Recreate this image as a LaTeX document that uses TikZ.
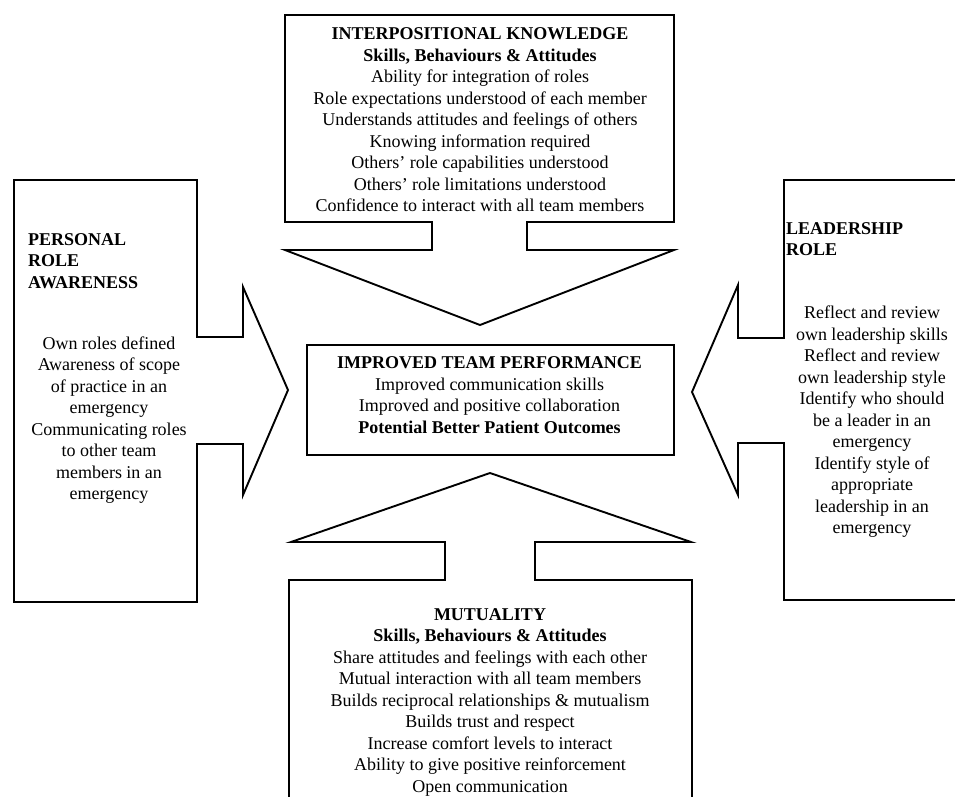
\documentclass[tikz,border=0pt]{standalone}
\usepackage{fontspec}
\setmainfont{Liberation Serif}
\usepackage{tikz}
\usetikzlibrary{calc}
\tikzstyle{callout}=[draw=black, line width=1.9pt, line join=miter]
\tikzstyle{txt}=[align=center, inner sep=0pt, font=\fontsize{18}{21.5}\selectfont]
\tikzstyle{hdleft}=[align=left, inner sep=0pt, font=\fontsize{18}{21.5}\selectfont\bfseries]

\begin{document}
\begin{tikzpicture}[x=1pt,y=-1pt]

\useasboundingbox (0,0) rectangle (955,797);
\clip (0,0) rectangle (955,797);

% the four callouts pointing inwards
\draw[callout] (285,15) -- (674,15) -- (674,222) -- (527,222) -- (527,250) -- (674,250)
  -- (480,325) -- (285,250) -- (432,250) -- (432,222) -- (285,222) -- cycle;
\draw[callout] (14,180) -- (197,180) -- (197,337) -- (243,337) -- (243,287)
  -- (288,390) -- (243,495) -- (243,444) -- (197,444) -- (197,602) -- (14,602) -- cycle;
\draw[callout] (965,180) -- (784,180) -- (784,338) -- (738,338) -- (738,285)
  -- (692,392) -- (738,495) -- (738,443) -- (784,443) -- (784,600) -- (965,600);
\draw[callout] (289,810) -- (289,580) -- (445,580) -- (445,542) -- (291,542)
  -- (490,473) -- (691,542) -- (535,542) -- (535,580) -- (692,580) -- (692,810);

% centre box
\node[callout, minimum width=367pt, minimum height=110pt, inner sep=0pt] (perf) at (490.5,400) {};

\node[txt] (interpos) at (480,120) {\textbf{INTERPOSITIONAL KNOWLEDGE}\\
  \textbf{Skills, Behaviours \& Attitudes}\\
  Ability for integration of roles\\
  Role expectations understood of each member\\
  Understands attitudes and feelings of others\\
  Knowing information required\\
  Others' role capabilities understood\\
  Others' role limitations understood\\
  Confidence to interact with all team members};

\node[hdleft, anchor=west] (persHd) at (28,261) {PERSONAL\\ROLE\\AWARENESS};
\node[txt] (persTxt) at (109,420) {Own roles defined\\
  Awareness of scope\\
  of practice in an\\
  emergency\\
  Communicating roles\\
  to other team\\
  members in an\\
  emergency};

\node[hdleft, anchor=west] (leadHd) at (786,239) {LEADERSHIP\\ROLE};
\node[txt] (leadTxt) at (872,422) {Reflect and review\\
  own leadership skills\\
  Reflect and review\\
  own leadership style\\
  Identify who should\\
  be a leader in an\\
  emergency\\
  Identify style of\\
  appropriate\\
  leadership in an\\
  emergency};

\node[txt] (perfTxt) at ($(perf)+(-1,-5)$) {\textbf{IMPROVED TEAM PERFORMANCE}\\
  Improved communication skills\\
  Improved and positive collaboration\\
  \textbf{Potential Better Patient Outcomes}};

\node[txt] (mutual) at (490,702) {\textbf{MUTUALITY}\\
  \textbf{Skills, Behaviours \& Attitudes}\\
  Share attitudes and feelings with each other\\
  Mutual interaction with all team members\\
  Builds reciprocal relationships \& mutualism\\
  Builds trust and respect\\
  Increase comfort levels to interact\\
  Ability to give positive reinforcement\\
  Open communication};

\end{tikzpicture}
\end{document}
